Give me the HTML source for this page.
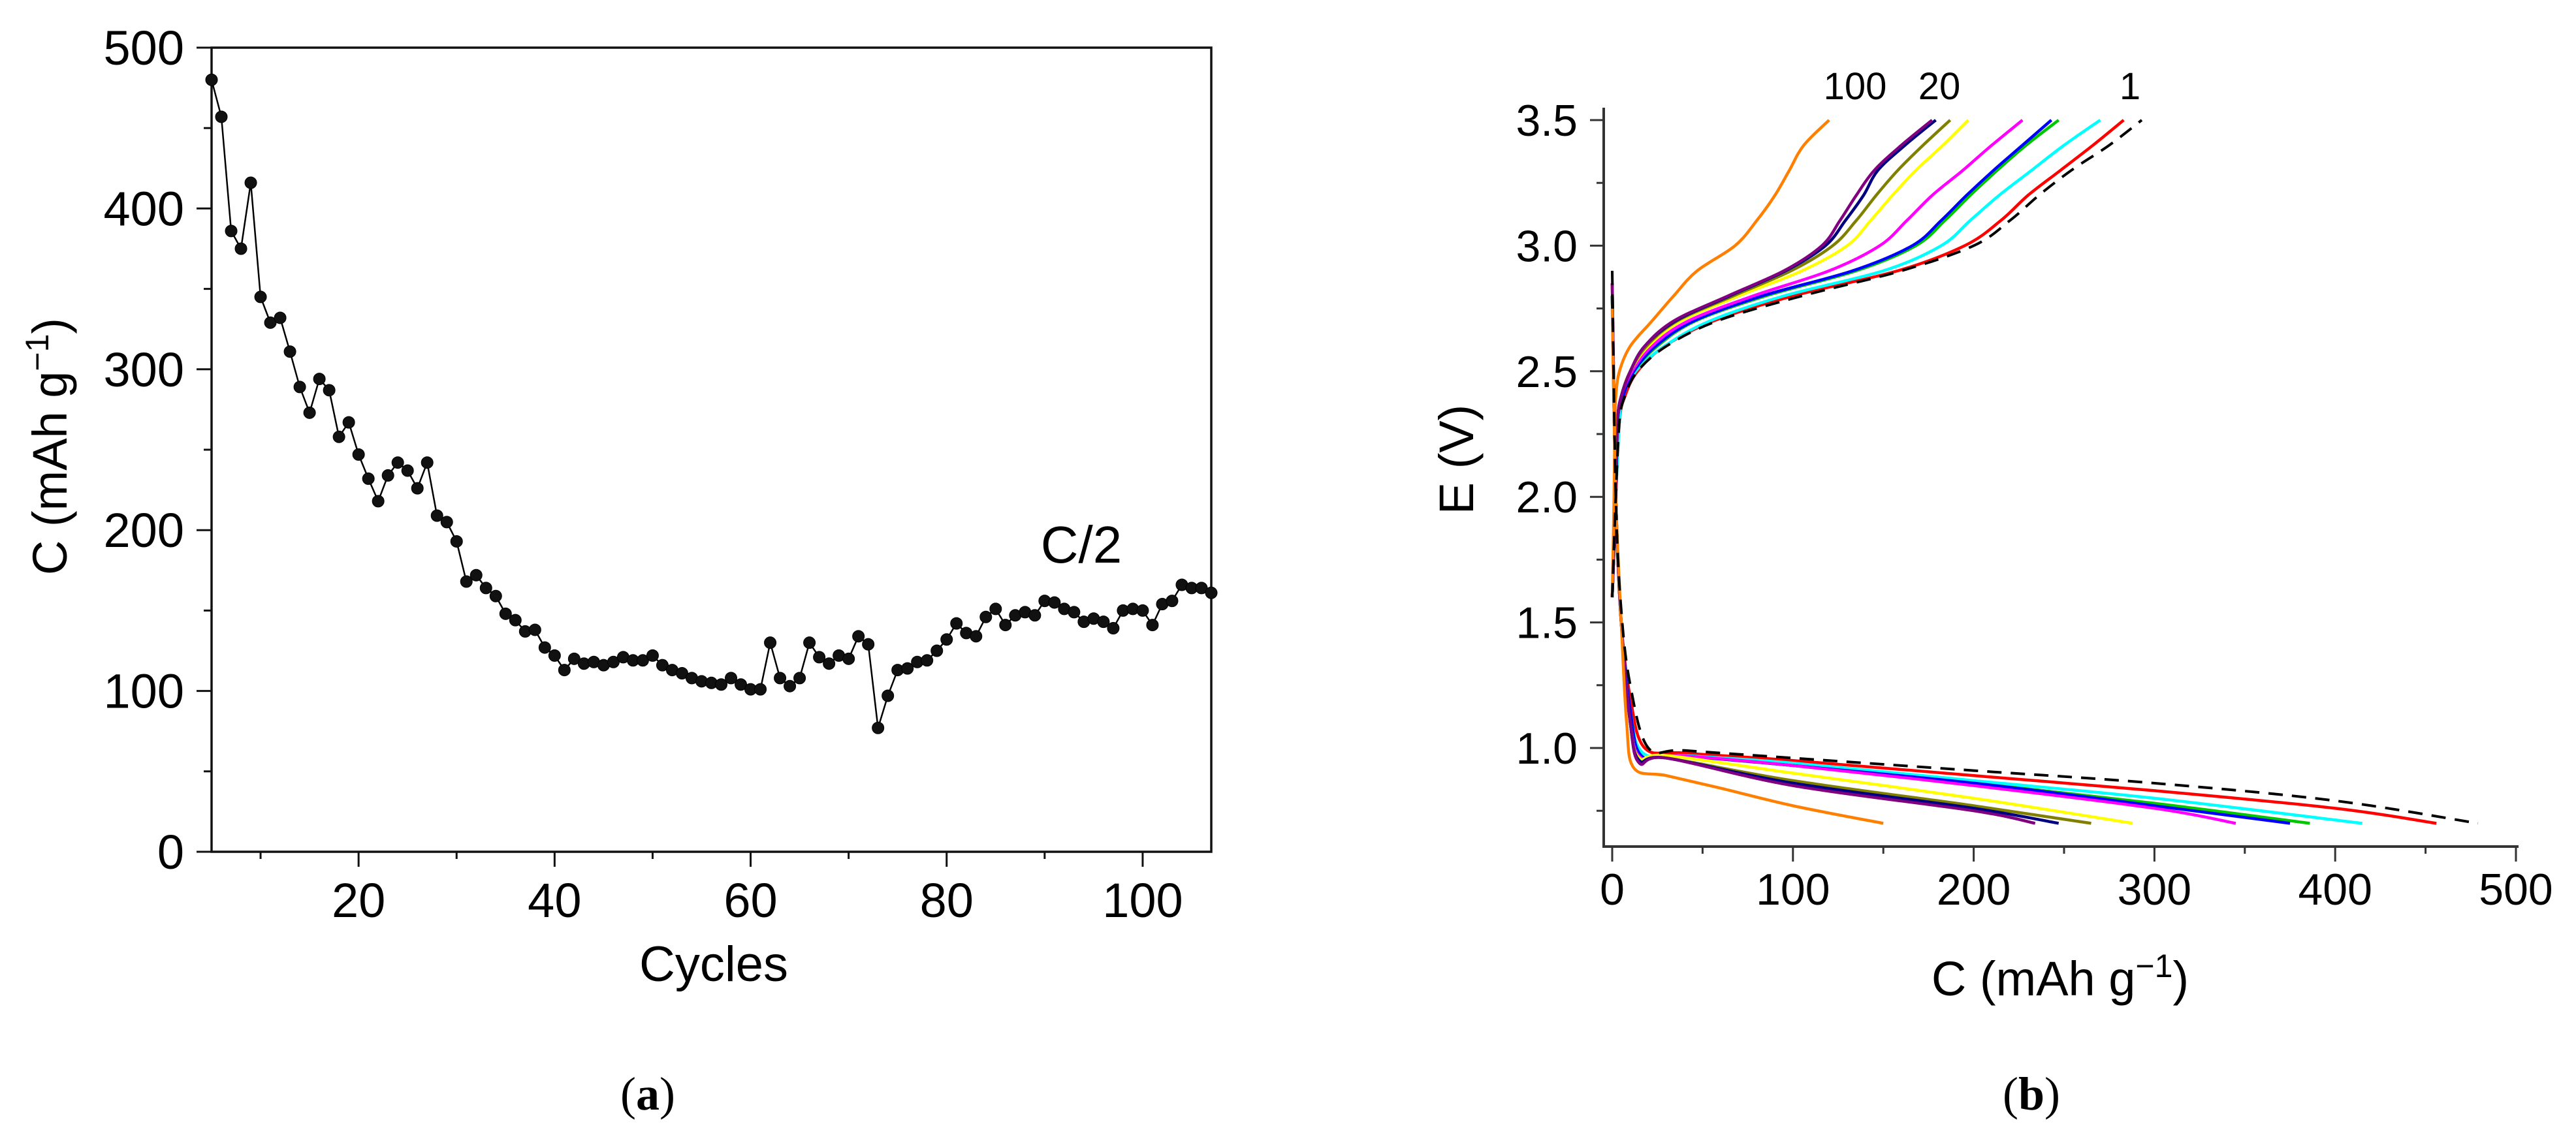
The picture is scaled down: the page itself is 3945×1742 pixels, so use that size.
<!DOCTYPE html>
<html><head><meta charset="utf-8"><style>
html,body{margin:0;padding:0;background:#fff;}
svg{display:block;font-family:"Liberation Sans",Arial,sans-serif;}
</style></head><body>
<svg id="fig" width="3945" height="1742" viewBox="0 0 3945 1742" xmlns="http://www.w3.org/2000/svg">
<g id="pa"></g>
<g id="pb"></g>
</svg>
<script>
// ---- Panel (a) data ----
const cyclesA = [];
for (let c = 5; c <= 107; c++) cyclesA.push(c);
const capacityA = [480,457,386,375,416,345,329,332,311,289,273,294,287,258,267,247,232,218,234,242,237,226,242,209,205,193,168,172,164,159,148,144,137,138,127,122,113,120,117,118,116,118,121,119,119,122,116,113,111,108,106,105,104,108,104,101,101,130,108,103,108,130,121,117,122,120,134,129,77,97,113,114,118,119,125,132,142,136,134,146,151,141,147,149,147,156,155,151,149,143,145,143,139,150,151,150,141,154,156,166,164,164,161];
const yTicksA = [0,100,200,300,400,500];
const xTicksA = [20,40,60,80,100];

// ---- Panel (b) data ----
const seriesNames = ["cycle-1","red","cyan","green","blue","magenta","yellow","olive","navy","purple","cycle-100"];
const seriesColors = ["#000000","#ff0000","#00ffff","#00c800","#0000ff","#ff00ff","#ffff00","#808000","#000080","#800080","#ff8000"];
const chargeV = [1.6,2.0,2.3,2.4,2.5,2.6,2.7,2.8,2.9,3.0,3.1,3.2,3.3,3.4,3.5];
const chargeCap = [
 [0,2,4,7,14,30,58,105,160,200,220,236,254,275,293],
 [0,2,4,7,14,29,56,100,158,195,215,230,248,266,283],
 [0,2,4,6,13,29,54,95,150,182,198,214,232,250,270],
 [0,2,3,6,12,25,46,85,135,168,184,198,213,229,247],
 [0,2,3,6,12,24,45,83,133,166,182,196,211,227,243],
 [0,2,3,5,11,22,42,78,120,148,163,177,194,210,227],
 [0,2,3,5,10,20,38,70,105,130,143,155,168,183,197],
 [0,2,3,5,10,19,36,67,99,122,135,146,158,172,187],
 [0,2,3,5,10,18,35,65,96,118,129,139,147,162,179],
 [0,2,3,5,10,18,34,64,95,116,126,135,145,160,177],
 [0,1,1.5,2,4,10,22,34,47,68,80,90,98,106,120]
];
const dischCap = [
 [0,2,5,10,20,40,100,200,300,400,479],
 [0,2,5,10,18,40,100,200,300,400,456],
 [0,2,5,10,17,40,100,200,300,415],
 [0,2,5,10,16,35,100,200,300,386],
 [0,2,5,10,16,35,100,200,300,375],
 [0,2,5,10,16,35,100,200,300,345],
 [0,2,5,10,15,30,100,200,288],
 [0,2,5,10,15,30,100,200,265],
 [0,2,5,10,15,30,100,200,247],
 [0,2,5,10,15,30,100,200,234],
 [0,2,5,8,12,30,60,100,150]
];
const dischV = [
 [2.9,2.0,1.55,1.25,1.0,0.99,0.96,0.91,0.86,0.79,0.70],
 [2.85,2.0,1.5,1.2,1.0,0.98,0.95,0.89,0.83,0.76,0.70],
 [2.8,2.0,1.5,1.15,0.98,0.97,0.94,0.87,0.80,0.70],
 [2.8,2.0,1.5,1.15,0.97,0.97,0.93,0.86,0.78,0.70],
 [2.8,2.0,1.5,1.15,0.97,0.97,0.93,0.86,0.77,0.70],
 [2.85,2.0,1.5,1.1,0.96,0.97,0.93,0.85,0.76,0.70],
 [2.8,2.0,1.5,1.1,0.96,0.97,0.90,0.80,0.70],
 [2.8,2.0,1.5,1.1,0.95,0.96,0.87,0.77,0.70],
 [2.8,2.0,1.5,1.1,0.95,0.96,0.86,0.76,0.70],
 [2.85,2.0,1.5,1.1,0.94,0.96,0.85,0.75,0.70],
 [2.75,2.0,1.5,1.1,0.92,0.89,0.84,0.77,0.70]
];
const yTicksB = [1.0,1.5,2.0,2.5,3.0,3.5];
const xTicksB = [0,100,200,300,400,500];

const NS = "http://www.w3.org/2000/svg";
function mk(parent, tag, attrs, text) {
  const e = document.createElementNS(NS, tag);
  for (const k in attrs) e.setAttribute(k, attrs[k]);
  if (text !== undefined) e.textContent = text;
  parent.appendChild(e);
  return e;
}
function smoothPath(pts) {
  let d = "M" + pts[0][0].toFixed(1) + "," + pts[0][1].toFixed(1);
  for (let i = 0; i < pts.length - 1; i++) {
    const p0 = pts[Math.max(0, i - 1)], p1 = pts[i], p2 = pts[i + 1], p3 = pts[Math.min(pts.length - 1, i + 2)];
    const c1x = p1[0] + (p2[0] - p0[0]) / 6, c1y = p1[1] + (p2[1] - p0[1]) / 6;
    const c2x = p2[0] - (p3[0] - p1[0]) / 6, c2y = p2[1] - (p3[1] - p1[1]) / 6;
    d += " C" + c1x.toFixed(1) + "," + c1y.toFixed(1) + " " + c2x.toFixed(1) + "," + c2y.toFixed(1) + " " + p2[0].toFixed(1) + "," + p2[1].toFixed(1);
  }
  return d;
}

// ---------- Panel A ----------
(function () {
  const g = document.getElementById("pa");
  const L = 324, R = 1855, T = 73, B = 1305;
  const xA = c => L + (c - 5) * (R - L) / 102;
  const yA = v => B - v * (B - T) / 500;
  const ax = "#111";
  let e;
  e = mk(g, "rect", {x: L, y: T, width: R - L, height: B - T, fill: "none", stroke: ax, "stroke-width": 3.5});
  
  
  for (let v = 0; v <= 500; v += 50) {
    const major = v % 100 === 0;
    e = mk(g, "line", {x1: L - (major ? 23 : 12), x2: L, y1: yA(v), y2: yA(v), stroke: ax, "stroke-width": 3});
    
    
  }
  yTicksA.forEach(v => {
    e = mk(g, "text", {x: 282, y: yA(v) + 26, "text-anchor": "end", "font-size": 74, fill: "#000"}, String(v));
    
    
  });
  for (let c = 10; c <= 100; c += 10) {
    const major = c % 20 === 0;
    e = mk(g, "line", {x1: xA(c), x2: xA(c), y1: B, y2: B + (major ? 23 : 11), stroke: ax, "stroke-width": 3});
    
    
  }
  xTicksA.forEach(c => {
    e = mk(g, "text", {x: xA(c), y: 1405, "text-anchor": "middle", "font-size": 74, fill: "#000"}, String(c));
    
    
  });
  e = mk(g, "text", {x: 1093, y: 1503, "text-anchor": "middle", "font-size": 76, fill: "#000"}, "Cycles");
  
  
  e = mk(g, "text", {x: 0, y: 0, "text-anchor": "middle", "font-size": 74, fill: "#000", transform: "translate(102,684) rotate(-90)"});
  
  
  e.appendChild(document.createTextNode("C (mAh g"));
  mk(e, "tspan", {dy: -28, "font-size": 50}, "−1");
  mk(e, "tspan", {dy: 28}, ")");
  e = mk(g, "text", {x: 1656, y: 862, "text-anchor": "middle", "font-size": 80, fill: "#000"}, "C/2");
  
  
  const pts = cyclesA.map((c, i) => [xA(c), yA(capacityA[i])]);
  e = mk(g, "polyline", {points: pts.map(p => p.join(",")).join(" "), fill: "none", stroke: "#000", "stroke-width": 2.5});
  
  
  pts.forEach(p => {
    e = mk(g, "circle", {cx: p[0], cy: p[1], r: 9, fill: "#111", stroke: "#000", "stroke-width": 1});
    
    
  });
  e = mk(g, "text", {x: 992, y: 1700, "text-anchor": "middle", "font-size": 72, fill: "#000", "font-family": "Liberation Serif, serif"});
  
  
  e.appendChild(document.createTextNode("("));
  mk(e, "tspan", {"font-weight": "bold"}, "a");
  e.appendChild(document.createTextNode(")"));
})();

// ---------- Panel B ----------
(function () {
  const g = document.getElementById("pb");
  const X0 = 2469, X500 = 3853;
  const xB = c => X0 + c * (X500 - X0) / 500;
  const yB = v => 184 + (3.5 - v) * 384.8;
  const L = 2456, B = 1297, T = 165, R = 3857;
  const ax = "#333";
  let e;
  e = mk(g, "line", {x1: L, x2: L, y1: T, y2: B, stroke: ax, "stroke-width": 4});
  
  
  e = mk(g, "line", {x1: L - 2, x2: R, y1: B, y2: B, stroke: ax, "stroke-width": 4});
  
  
  for (let k = 0; k <= 11; k++) {
    const v = 0.75 + k * 0.25;
    const major = k % 2 === 1;
    e = mk(g, "line", {x1: L - (major ? 21 : 11), x2: L, y1: yB(v), y2: yB(v), stroke: ax, "stroke-width": 3});
    
    
  }
  yTicksB.forEach(v => {
    e = mk(g, "text", {x: 2416, y: yB(v) + 24, "text-anchor": "end", "font-size": 68, fill: "#000"}, v.toFixed(1));
    
    
  });
  for (let c = 0; c <= 500; c += 50) {
    const major = c % 100 === 0;
    e = mk(g, "line", {x1: xB(c), x2: xB(c), y1: B, y2: B + (major ? 23 : 11), stroke: ax, "stroke-width": 3});
    
    
  }
  xTicksB.forEach(c => {
    e = mk(g, "text", {x: xB(c), y: 1386, "text-anchor": "middle", "font-size": 68, fill: "#000"}, String(c));
    
    
  });
  e = mk(g, "text", {x: 0, y: 0, "text-anchor": "middle", "font-size": 74, fill: "#000", transform: "translate(2256,704) rotate(-90)"}, "E (V)");
  
  
  e = mk(g, "text", {x: 3155, y: 1525, "text-anchor": "middle", "font-size": 74, fill: "#000"});
  
  
  e.appendChild(document.createTextNode("C (mAh g"));
  mk(e, "tspan", {dy: -28, "font-size": 50}, "−1");
  mk(e, "tspan", {dy: 28}, ")");
  const order = [1,2,3,4,5,6,7,8,9,10,0];
  order.forEach(i => {
    const col = seriesColors[i];
    const dashed = i === 0;
    const cp = chargeV.map((v, j) => [xB(chargeCap[i][j]), yB(v)]);
    e = mk(g, "path", {d: smoothPath(cp), fill: "none", stroke: col, "stroke-width": dashed ? 4 : 4.5, "stroke-dasharray": dashed ? "22 14" : "none", "stroke-linejoin": "round"});
    
    
    const dp = dischCap[i].map((c, j) => [xB(c), yB(dischV[i][j])]);
    e = mk(g, "path", {d: smoothPath(dp), fill: "none", stroke: col, "stroke-width": dashed ? 4 : 4.5, "stroke-dasharray": dashed ? "22 14" : "none", "stroke-linejoin": "round"});
    
    
  });
  [["100", 2841, "cycle-100-label"], ["20", 2970, "cycle-20-label"], ["1", 3262, "cycle-1-label"]].forEach(a => {
    e = mk(g, "text", {x: a[1], y: 152, "text-anchor": "middle", "font-size": 58, fill: "#000"}, a[0]);
    
    
  });
  e = mk(g, "text", {x: 3111, y: 1700, "text-anchor": "middle", "font-size": 72, fill: "#000", "font-family": "Liberation Serif, serif"});
  
  
  e.appendChild(document.createTextNode("("));
  mk(e, "tspan", {"font-weight": "bold"}, "b");
  e.appendChild(document.createTextNode(")"));
})();
</script>
</body></html>
